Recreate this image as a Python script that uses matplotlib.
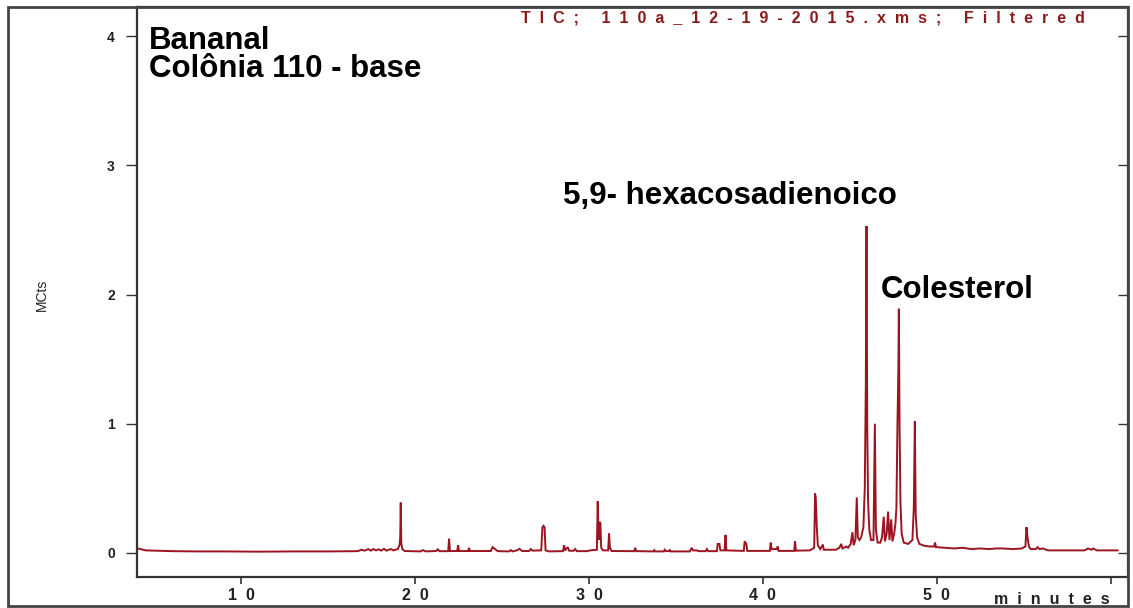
import matplotlib
matplotlib.use("Agg")
import matplotlib.pyplot as plt
from matplotlib.patches import Rectangle

plt.rcParams['font.family'] = ['Liberation Sans', 'DejaVu Sans']

# ---- data (retention time in minutes, signal in MCounts) ----
times = [4.0, 4.2, 4.5, 5.0, 6.0, 7.5, 9.0, 11.0, 13.0, 15.0, 16.7,
         16.9, 17.1, 17.3, 17.45, 17.6, 17.75, 17.9, 18.05, 18.2, 18.35, 18.6, 18.75,
         19.0, 19.1, 19.14, 19.17, 19.2, 19.26, 19.4,
         20.3, 20.45, 20.6, 21.2, 21.3, 21.4, 21.9, 21.95, 22.0, 22.42, 22.47, 22.52,
         23.05, 23.1, 23.15, 24.35, 24.45, 24.6, 24.75, 25.4, 25.5, 25.6, 25.85, 26.0,
         26.15, 26.55, 26.65, 26.75, 27.25, 27.32, 27.38, 27.44, 27.5, 27.7, 28.5,
         28.57, 28.62, 28.78, 28.85, 29.1, 29.2, 29.3, 29.9, 30.05, 30.45, 30.5, 30.55,
         30.6, 30.65, 30.7, 30.8, 31.1, 31.15, 31.2, 31.3, 32.6, 32.65, 32.72, 33.7,
         33.75, 33.8, 34.3, 34.35, 34.42, 34.6, 34.65, 34.7, 35.8, 35.9, 35.98, 36.2,
         36.3, 36.7, 36.78, 36.85, 37.35, 37.4, 37.5, 37.55, 37.8, 37.85, 37.9, 38.9,
         38.95, 39.05, 39.1, 40.4, 40.45, 40.5, 40.8, 40.85, 40.9, 41.8, 41.85, 41.9,
         42.7, 42.95, 43.0, 43.04, 43.1, 43.16, 43.3, 43.45, 43.5, 44.2, 44.4, 44.5,
         44.58, 44.8, 44.9, 45.05, 45.15, 45.22, 45.32, 45.4, 45.46, 45.55, 45.65,
         45.78, 45.86, 45.92, 45.96, 46.0, 46.05, 46.12, 46.22, 46.36, 46.44, 46.5,
         46.6, 46.75, 46.85, 46.95, 47.02, 47.12, 47.2, 47.28, 47.38, 47.45, 47.55,
         47.62, 47.68, 47.74, 47.79, 47.82, 47.86, 47.91, 47.98, 48.1, 48.35, 48.6,
         48.68, 48.74, 48.79, 48.87, 49.0, 49.3, 49.6, 49.85, 49.9, 49.96, 50.5, 51.0,
         51.5, 52.0, 52.5, 53.0, 53.4, 53.8, 54.4, 54.9, 55.1, 55.16, 55.22, 55.3,
         55.4, 55.7, 55.8, 55.9, 56.1, 56.4, 57.5, 58.5, 58.7, 58.9, 59.0, 59.2, 60.4]

counts = [0.035, 0.03, 0.02, 0.018, 0.014, 0.012, 0.012, 0.01, 0.012, 0.012, 0.014,
          0.025, 0.018, 0.03, 0.018, 0.03, 0.02, 0.028, 0.018, 0.032, 0.018, 0.03, 0.02,
          0.03, 0.06, 0.12, 0.39, 0.08, 0.03, 0.015,
          0.012, 0.022, 0.012, 0.015, 0.028, 0.014, 0.014, 0.11, 0.015, 0.015, 0.06, 0.015,
          0.015, 0.04, 0.015, 0.015, 0.045, 0.03, 0.014, 0.012, 0.022, 0.012, 0.02, 0.032,
          0.015, 0.015, 0.03, 0.018, 0.02, 0.2, 0.21, 0.2, 0.02, 0.012, 0.014,
          0.06, 0.02, 0.045, 0.018, 0.016, 0.03, 0.014, 0.014, 0.02, 0.025, 0.4, 0.1,
          0.23, 0.24, 0.04, 0.02, 0.02, 0.15, 0.04, 0.015, 0.014, 0.04, 0.014, 0.012,
          0.022, 0.012, 0.012, 0.025, 0.014, 0.014, 0.022, 0.012, 0.012, 0.04, 0.02, 0.02,
          0.014, 0.014, 0.03, 0.014, 0.014, 0.07, 0.07, 0.02, 0.02, 0.14, 0.02, 0.016,
          0.09, 0.07, 0.016, 0.016, 0.08, 0.03, 0.03, 0.05, 0.016, 0.016, 0.09, 0.018,
          0.02, 0.04, 0.46, 0.43, 0.2, 0.06, 0.03, 0.065, 0.025, 0.025, 0.04, 0.07,
          0.035, 0.05, 0.04, 0.07, 0.16, 0.06, 0.1, 0.43, 0.12, 0.1, 0.12,
          0.2, 0.5, 1.3, 2.53, 1.0, 0.4, 0.18, 0.1, 0.1, 1.0, 0.18,
          0.08, 0.08, 0.12, 0.28, 0.09, 0.15, 0.32, 0.1, 0.26, 0.09, 0.15,
          0.22, 0.35, 1.0, 1.4, 1.89, 1.0, 0.4, 0.15, 0.08, 0.07, 0.1,
          0.35, 1.02, 0.3, 0.12, 0.07, 0.055, 0.05, 0.05, 0.08, 0.045, 0.04, 0.035,
          0.04, 0.03, 0.035, 0.03, 0.035, 0.035, 0.03, 0.035, 0.05, 0.2, 0.12, 0.05,
          0.03, 0.03, 0.045, 0.03, 0.035, 0.02, 0.02, 0.02, 0.035, 0.025, 0.035, 0.02, 0.02]

x_ticks = [10, 20, 30, 40, 50, 60]
x_tick_labels = ['1  0', '2  0', '3  0', '4  0', '5  0', '']
y_ticks = [0, 1, 2, 3, 4]
y_tick_labels = ['0', '1', '2', '3', '4']

title_text = ('T  I  C  ;     1  1  0  a  _  1  2  -  1  9  -  2  0  1  5  .  x  m  s  ;'
              '     F  i  l  t  e  r  e  d')
annotations = [('Bananal', 4.7, 3.90), ('Colônia 110 - base', 4.7, 3.68),
               ('5,9- hexacosadienoico', 28.5, 2.70), ('Colesterol', 46.75, 1.975)]

# ---- figure ----
W, H = 1133, 608
fig = plt.figure(figsize=(W / 100, H / 100), dpi=100)
fig.patch.set_facecolor('white')

ax = fig.add_axes([137 / W, (H - 577) / H, (1128 - 137) / W, (577 - 7) / H])
trace_color = '#9b1420'
ax.plot(times, counts, color=trace_color, lw=1.4, solid_joinstyle='miter')

ax.set_xlim(4.0, 61.0)
ax.set_ylim(-0.186, 4.225)

ax.set_xticks(x_ticks)
ax.set_xticklabels(x_tick_labels, fontsize=11.5, fontweight='bold', color='#222')
ax.set_yticks(y_ticks)
ax.set_yticklabels(y_tick_labels, fontsize=10, fontweight='bold', color='#222')
ax.tick_params(axis='x', direction='out', length=5, width=1.2, pad=3, color='#333')
ax.tick_params(axis='y', direction='out', length=8, width=1.0, pad=8, color='#333')

sec = ax.secondary_yaxis('right')
sec.set_yticks(y_ticks)
sec.tick_params(axis='y', direction='in', length=7, width=1.0, labelright=False, color='#333')
sec.spines['right'].set_color('#333')

for s in ax.spines.values():
    s.set_color('#333')
    s.set_linewidth(1.6)

# outer frame
fig.patches.append(Rectangle((8 / W, 2 / H), (1128 - 8) / W, (601 - 2) / H,
                             transform=fig.transFigure, fill=False,
                             edgecolor='#444', linewidth=2.0))

# texts
fig.text(1085 / W, 1 - 18 / H, title_text, ha='right', va='center', fontsize=11.5,
         fontweight='bold', color='#8b1a1a')
fig.text(1110 / W, 1 - 599 / H, 'm  i  n  u  t  e  s', ha='right', va='center',
         fontsize=11.5, fontweight='bold', color='#222')
fig.text(42 / W, 1 - 295 / H, 'MCts', rotation=90, ha='center', va='center',
         fontsize=10, color='#222')

for txt, xv, yv in annotations:
    ax.text(xv, yv, txt, ha='left', va='baseline', fontsize=22.5,
            fontweight='bold', color='black')

fig.savefig('out.png', dpi=100)
